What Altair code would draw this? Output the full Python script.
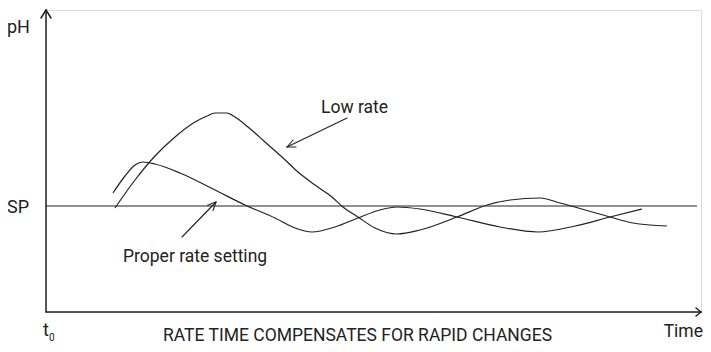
import altair as alt
import pandas as pd

# ---- data (time units, pH units; SP = 108) ----
low_t = [69, 89, 109, 129, 149, 161, 169, 181, 189, 202, 219, 236, 252, 269, 286, 297, 312, 329, 351, 374, 411, 441, 464, 494, 514, 564, 587, 621]
low_v = [106, 134, 158, 177, 192, 198, 201, 201, 197, 187, 172, 157, 142, 129, 117, 107, 97, 86, 80, 84, 97, 109, 114, 116, 111, 97, 91, 88]

prop_t = [67, 79, 89, 97, 109, 134, 169, 199, 229, 249, 266, 289, 312, 334, 351, 374, 411, 454, 492, 529, 564, 596]
prop_v = [121, 138, 149, 152, 150, 141, 124, 109, 96, 86, 82, 87, 96, 104, 107, 105, 97, 87, 82, 88, 97, 105]

SP = 108
T_MAX = 655
V_MIN = 2
V_MAX = 304
SP_END = 651

labels = ["pH", "SP", "Low rate", "Proper rate setting", "t", "0",
          "RATE TIME COMPENSATES FOR RAPID CHANGES"]
label_x = [-39, -39, 275, 77, -3, 3, 117]
label_y = [281, 101, 201, 52, -22, -27, -27]
label_size = [18, 18, 17.5, 17.5, 18, 10, 17.5]

right_labels = ["Time"]
right_x = [657]
right_y = [-23]

# segments: axes, arrow heads, annotation arrows
seg_x1 = [0, 0, -5, 0, 655, 655, 301, 241, 241, 136, 170, 170]
seg_y1 = [2, 2, 296, 304, 2, 2, 196, 167, 167, 77, 112, 112]
seg_x2 = [0, 655, 0, 5, 650, 650, 241, 250, 247, 170, 161.6, 167]
seg_y2 = [304, 2, 304, 296, 6, -2, 167, 167, 174, 112, 108.8, 103.5]
seg_w = [1.5, 1.5, 1.5, 1.5, 1.5, 1.5, 1.1, 1.1, 1.1, 1.1, 1.1, 1.1]

curves = pd.DataFrame(
    {"t": low_t + prop_t,
     "v": low_v + prop_v,
     "series": ["Low rate"] * len(low_t) + ["Proper rate setting"] * len(prop_t)}
)
segs = pd.DataFrame({"x": seg_x1, "y": seg_y1, "x2": seg_x2, "y2": seg_y2, "w": seg_w})
sp_df = pd.DataFrame({"x": [0], "x2": [SP_END], "y": [SP]})
txt = pd.DataFrame({"x": label_x, "y": label_y, "text": labels, "size": label_size})
rtxt = pd.DataFrame({"x": right_x, "y": right_y, "text": right_labels})

xs = alt.Scale(domain=[0, T_MAX])
ys = alt.Scale(domain=[V_MIN, V_MAX])
INK = "#222222"
FONT = "Roboto"

lines = alt.Chart(curves).mark_line(interpolate="monotone", color=INK, strokeWidth=1.2).encode(
    x=alt.X("t:Q", scale=xs, axis=None),
    y=alt.Y("v:Q", scale=ys, axis=None),
    detail="series:N",
)

sp_line = alt.Chart(sp_df).mark_rule(color=INK, strokeWidth=1.2).encode(
    x=alt.X("x:Q", scale=xs, axis=None),
    x2="x2:Q",
    y=alt.Y("y:Q", scale=ys, axis=None),
)

seg_layer = alt.Chart(segs).mark_rule(color=INK, strokeCap="round").encode(
    x=alt.X("x:Q", scale=xs, axis=None),
    y=alt.Y("y:Q", scale=ys, axis=None),
    x2="x2:Q",
    y2="y2:Q",
    strokeWidth=alt.StrokeWidth("w:Q", scale=None),
)

text_layer = alt.Chart(txt).mark_text(align="left", baseline="alphabetic", font=FONT, color=INK).encode(
    x=alt.X("x:Q", scale=xs, axis=None),
    y=alt.Y("y:Q", scale=ys, axis=None),
    text="text:N",
    size=alt.Size("size:Q", scale=None),
)

rtext_layer = alt.Chart(rtxt).mark_text(align="right", baseline="alphabetic", font=FONT, color=INK, fontSize=17.5).encode(
    x=alt.X("x:Q", scale=xs, axis=None),
    y=alt.Y("y:Q", scale=ys, axis=None),
    text="text:N",
)

chart = alt.layer(sp_line, lines, seg_layer, text_layer, rtext_layer).properties(
    width=655,
    height=302,
    padding={"left": 38, "top": 2, "right": 2, "bottom": 32},
    autosize=alt.AutoSizeParams(type="none"),
).configure_view(stroke=None).configure(background="white")

chart.save("out.html", embed_options={"renderer": "svg", "actions": False})
